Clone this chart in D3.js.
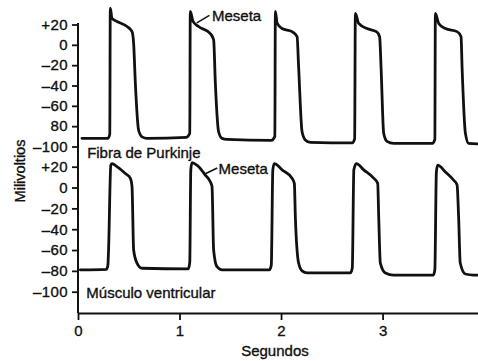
<!DOCTYPE html>
<html>
<head>
<meta charset="utf-8">
<script src="https://cdn.jsdelivr.net/npm/d3@7"></script>
<style>
    body { margin: 0; background: #fff; }
    #chart text { font-family: "Liberation Sans", Arial, sans-serif; fill: #111; stroke: #111; stroke-width: 0.35px; }
</style>
</head>
<body>
<div id="chart"></div>
<script>
// ticks
const timeTicks = [0, 1, 2, 3];
const mvTicks = [20, 0, -20, -40, -60, -80, -100];
const purkinjeTickLabels = ["+20", "0", "\u201320", "\u201340", "\u201360", "80", "\u2013100"];
const ventricularTickLabels = ["+20", "0", "\u201320", "\u201340", "\u201360", "\u201380", "\u2013100"];

// Fibra de Purkinje (seconds, mV)
const purkinjeTime = [0.039, 0.294, 0.313, 0.318, 0.335, 0.384, 0.483, 0.532, 0.548, 0.565, 0.597, 0.631, 0.680,
    1.067, 1.101, 1.106, 1.133, 1.188, 1.303, 1.336, 1.353, 1.385, 1.419, 1.468,
    1.904, 1.939, 1.944, 1.961, 2.010, 2.108, 2.158, 2.173, 2.207, 2.239, 2.289,
    2.702, 2.725, 2.732, 2.765, 2.847, 2.939, 2.971, 2.985, 3.011, 3.044, 3.109,
    3.491, 3.515, 3.520, 3.553, 3.619, 3.734, 3.773, 3.783, 3.816, 3.848, 3.934];
const purkinjeMv = [-92, -92, -88, 36, 26, 23, 18, 13, 1.5, -38, -84, -90.5, -92,
    -91, -87, 33, 23, 18, 11, 5, -38, -85.5, -92, -93,
    -94, -90, 33, 21.5, 16, 13, 8, -21.5, -85.5, -93.5, -96,
    -96.5, -92.5, 31, 21, 16, 13, 8, -21.5, -87, -95, -97,
    -97, -93, 31, 21, 16, 13, 8, -21.5, -87, -97, -97.5];

// Musculo ventricular (seconds, mV)
const ventricularTime = [0.023, 0.279, 0.294, 0.301, 0.323, 0.335, 0.384, 0.466, 0.515, 0.532, 0.548, 0.581, 0.631,
    1.087, 1.101, 1.111, 1.123, 1.172, 1.254, 1.303, 1.320, 1.336, 1.369, 1.419,
    1.885, 1.904, 1.919, 1.934, 2.010, 2.108, 2.131, 2.141, 2.173, 2.207, 2.256,
    2.683, 2.702, 2.717, 2.742, 2.814, 2.912, 2.952, 2.962, 2.978, 3.028, 3.109,
    3.500, 3.515, 3.530, 3.543, 3.619, 3.701, 3.734, 3.749, 3.765, 3.815, 3.897, 3.943];
const ventricularMv = [-79, -78.5, -75, -60, 21.5, 23, 20, 13.5, 9, 1, -60, -72.5, -77.5,
    -78, -71.5, 17, 24, 21.5, 12, 5.5, 1, -60, -76, -79,
    -79, -74.5, 17, 23, 17, 9, 4, -28, -72.5, -80, -82,
    -82, -77, 17, 23, 17, 9, 4, -28, -72.5, -82, -84,
    -84, -79, 15, 21.5, 15, 7, 2.5, -28, -72.5, -83, -84, -84];

const width = 478, height = 361;

const svg = d3.select("#chart").append("svg")
    .attr("width", width)
    .attr("height", height);

const x = d3.scaleLinear().domain([0, 3.94]).range([78, 478]);
const yTop = d3.scaleLinear().domain([-100, 20]).range([146.5, 24.5]);
const yBottom = d3.scaleLinear().domain([-100, 20]).range([291.7, 166.7]);
const axisY = 313;

// y axes (one per panel), shared vertical line
function drawYAxis(scale, labels) {
    let g = svg.append("g")
        .attr("transform", "translate(78,0)")
        .call(d3.axisLeft(scale)
            .tickValues(mvTicks)
            .tickSize(6)
            .tickPadding(4)
            .tickFormat((d, i) => labels[i]));
    g.select(".domain").remove();
    g.selectAll("line").attr("stroke", "#111").attr("stroke-width", 1.8);
    g.selectAll("text").attr("font-size", "15px").attr("letter-spacing", "0.4px");
}
drawYAxis(yTop, purkinjeTickLabels);
drawYAxis(yBottom, ventricularTickLabels);

svg.append("line")
    .attr("x1", 78).attr("x2", 78)
    .attr("y1", 23).attr("y2", axisY)
    .attr("stroke", "#111").attr("stroke-width", 2);

// x axis
let xg = svg.append("g")
    .attr("transform", `translate(0,${axisY})`)
    .call(d3.axisBottom(x)
        .tickValues(timeTicks)
        .tickSize(7)
        .tickSizeOuter(0)
        .tickPadding(5)
        .tickFormat(d3.format("d")));
xg.select(".domain").attr("stroke", "#111").attr("stroke-width", 2);
xg.selectAll("line").attr("stroke", "#111").attr("stroke-width", 1.8);
xg.selectAll("text").attr("font-size", "15px");

svg.append("text")
    .attr("x", x(1.94))
    .attr("y", 356)
    .attr("text-anchor", "middle")
    .attr("font-size", "15px")
    .text("Segundos");

svg.append("text")
    .attr("transform", "translate(24.5,171) rotate(-90)")
    .attr("text-anchor", "middle")
    .attr("font-size", "14.5px")
    .text("Milivoltios");

// traces
function drawTrace(times, values, scale) {
    let line = d3.line()
        .x(d => x(d[0]))
        .y(d => scale(d[1]))
        .curve(d3.curveMonotoneX);
    svg.append("path")
        .datum(times.map((t, i) => [t, values[i]]))
        .attr("fill", "none")
        .attr("stroke", "#111")
        .attr("stroke-width", 2.8)
        .attr("stroke-linejoin", "round")
        .attr("stroke-linecap", "round")
        .attr("d", line);
}
drawTrace(purkinjeTime, purkinjeMv, yTop);
drawTrace(ventricularTime, ventricularMv, yBottom);

// panel labels
svg.append("text")
    .attr("x", x(0.09)).attr("y", yTop(-111.3))
    .attr("font-size", "15px")
    .text("Fibra de Purkinje");

svg.append("text")
    .attr("x", x(0.082)).attr("y", yBottom(-106))
    .attr("font-size", "15px")
    .text("Músculo ventricular");

// "Meseta" callouts
function meseta(scale, t0, v0, t1, v1, tText, vText) {
    svg.append("line")
        .attr("x1", x(t0)).attr("y1", scale(v0))
        .attr("x2", x(t1)).attr("y2", scale(v1))
        .attr("stroke", "#111").attr("stroke-width", 1.5);
    svg.append("text")
        .attr("x", x(tText)).attr("y", scale(vText))
        .attr("font-size", "15px")
        .text("Meseta");
}
meseta(yTop, 1.170, 21.5, 1.294, 29, 1.320, 23);
meseta(yBottom, 1.249, 13, 1.372, 18.8, 1.385, 13);
</script>
</body>
</html>
